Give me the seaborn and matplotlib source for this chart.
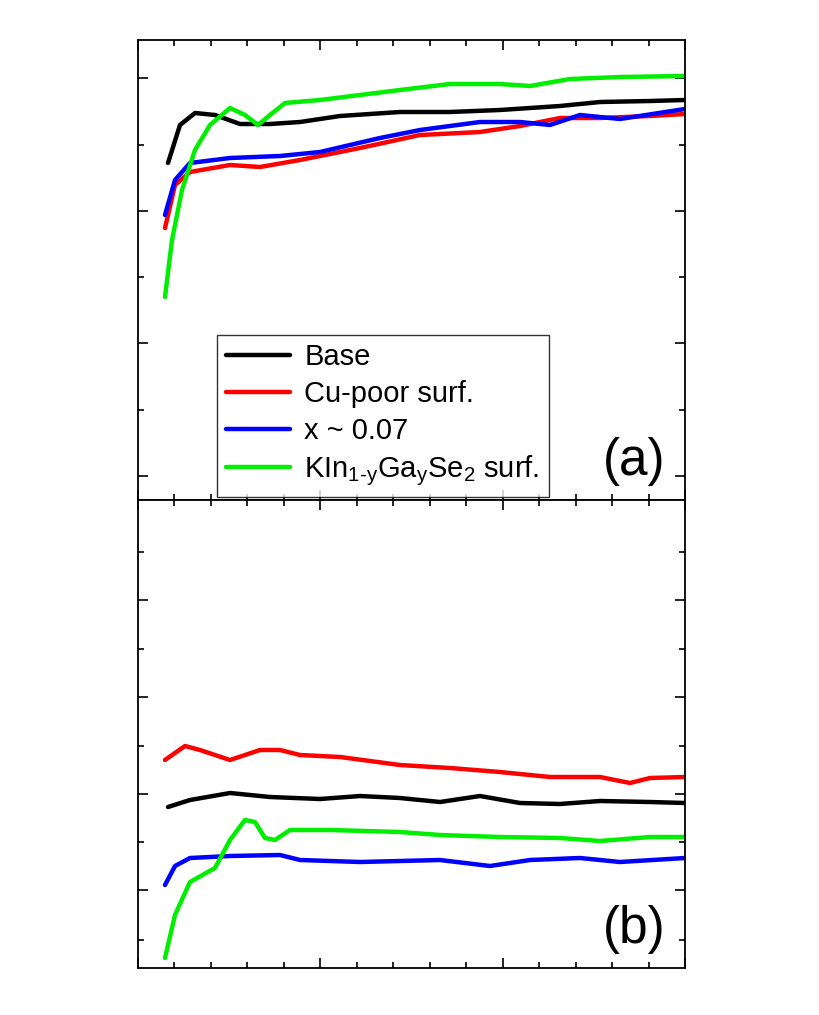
import numpy as np
import pandas as pd
import matplotlib
matplotlib.use("Agg")
import matplotlib.pyplot as plt
import seaborn as sns

# arbitrary units (no axis labels in the original), y axis inverted
base_a_x = [168, 180, 195, 215, 240, 270, 300, 340, 400, 450, 500, 560, 600, 650, 685]
base_a_y = [163, 125, 113, 115, 124, 124, 122, 116, 112, 112, 110, 106, 102, 101, 100]
cu_a_x = [165, 175, 190, 230, 260, 300, 360, 420, 480, 520, 560, 600, 650, 685]
cu_a_y = [228, 185, 172, 165, 167, 160, 148, 135, 132, 126, 118, 118, 116, 114]
x07_a_x = [165, 175, 190, 230, 280, 320, 380, 420, 480, 520, 550, 580, 620, 685]
x07_a_y = [215, 180, 163, 158, 156, 152, 138, 130, 122, 122, 125, 115, 119, 109]
kin_a_x = [165, 172, 182, 195, 210, 230, 245, 258, 270, 285, 320, 400, 450, 500, 530, 570, 620, 685]
kin_a_y = [297, 240, 190, 150, 125, 108, 115, 125, 115, 103, 100, 90, 84, 84, 86, 79, 77, 76]

cu_b_x = [165, 185, 200, 230, 260, 280, 300, 340, 400, 450, 500, 550, 600, 630, 650, 685]
cu_b_y = [760, 746, 750, 760, 750, 750, 755, 757, 765, 768, 772, 777, 777, 783, 778, 777]
base_b_x = [168, 190, 230, 270, 320, 360, 400, 440, 480, 520, 560, 600, 650, 685]
base_b_y = [807, 800, 793, 797, 799, 796, 798, 802, 796, 803, 804, 801, 802, 803]
kin_b_x = [165, 175, 190, 215, 230, 245, 255, 265, 275, 290, 330, 400, 440, 500, 560, 600, 650, 685]
kin_b_y = [958, 915, 882, 868, 840, 820, 822, 838, 840, 830, 830, 832, 835, 837, 838, 841, 837, 837]
x07_b_x = [165, 175, 190, 230, 280, 300, 360, 440, 490, 530, 580, 620, 685]
x07_b_y = [885, 866, 858, 856, 855, 860, 862, 860, 866, 860, 858, 862, 858]

labels = ["Base", "Cu-poor surf.", "x ~ 0.07",
          r"KIn$_{\mathsf{1}\text{-}\mathsf{y}}$Ga$_{\mathsf{y}}$Se$_{\mathsf{2}}$ surf."]
colors = ["#000000", "#ff0000", "#0000ff", "#00ee00"]

def frame(series):
    rows = []
    for lab, (xs, ys) in zip(labels, series):
        rows += [dict(x=a, y=b, s=lab) for a, b in zip(xs, ys)]
    return pd.DataFrame(rows)

df_a = frame([(base_a_x, base_a_y), (cu_a_x, cu_a_y), (x07_a_x, x07_a_y), (kin_a_x, kin_a_y)])
df_b = frame([(base_b_x, base_b_y), (cu_b_x, cu_b_y), (x07_b_x, x07_b_y), (kin_b_x, kin_b_y)])

sns.set_theme(style="ticks")
plt.rcParams['font.family'] = ['Liberation Sans', 'DejaVu Sans']
plt.rcParams['mathtext.fontset'] = 'custom'
plt.rcParams['mathtext.rm'] = 'Liberation Sans'
plt.rcParams['mathtext.sf'] = 'Liberation Sans'
plt.rcParams['text.color'] = 'black'

fig = plt.figure(figsize=(8.2, 10.15), dpi=100)
ax1 = fig.add_axes([138/820, 1-500/1015, 547/820, 460/1015])
ax2 = fig.add_axes([138/820, 1-968/1015, 547/820, 468/1015])

pal = dict(zip(labels, colors))
sns.lineplot(data=df_a, x="x", y="y", hue="s", palette=pal, lw=3.2, ax=ax1)
sns.lineplot(data=df_b, x="x", y="y", hue="s", palette=pal, lw=3.2, ax=ax2, legend=False)

xmaj = np.linspace(138, 685, 4)
xmin = np.linspace(138, 685, 16)
ax1.set_ylim(500, 40)
ax2.set_ylim(968, 500)
for ax in (ax1, ax2):
    ax.set_xlabel("")
    ax.set_ylabel("")
    ax.set_xticks(xmaj)
    ax.set_xticks(xmin, minor=True)
    ax.set_xlim(138, 685)
    ax.tick_params(which="both", direction="in", top=True, right=True, bottom=True, left=True,
                   labelleft=False, labelbottom=False, width=1.2, color="black")
    ax.tick_params(which="major", length=7)
    ax.tick_params(which="minor", length=4)
    for sp in ax.spines.values():
        sp.set_linewidth(1.3)
        sp.set_color("black")
ax1.set_yticks([476, 343, 211, 78])
ax1.set_yticks([409.5, 277, 144.5], minor=True)
ax2.set_yticks([600, 697, 794, 890])
ax2.set_yticks([552, 648.5, 745.5, 842, 940], minor=True)

leg = ax1.legend(loc="lower left", bbox_to_anchor=((217-138)/547, 3/460), fontsize=21,
                 frameon=True, fancybox=False, edgecolor="black", handlelength=2.2,
                 borderpad=0.3, labelspacing=0.3, handletextpad=0.5, borderaxespad=0)
leg.get_frame().set_linewidth(1.0)
for l in leg.get_lines():
    l.set_linewidth(3.2)

ax1.text(0.965, 0.03, "(a)", transform=ax1.transAxes, ha="right", va="bottom", fontsize=37)
ax2.text(0.965, 0.03, "(b)", transform=ax2.transAxes, ha="right", va="bottom", fontsize=37)

fig.savefig("out.png", dpi=100)
